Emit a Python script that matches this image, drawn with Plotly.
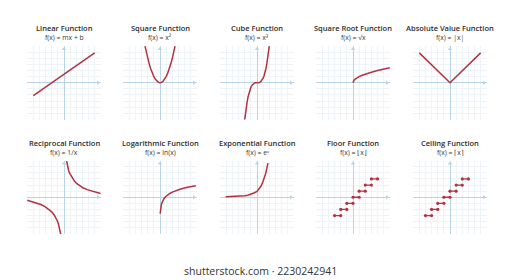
import plotly.graph_objects as go

W, H = 520, 280

# ---------------- data ----------------
TITLES = ["Linear Function", "Square Function", "Cube Function", "Square Root Function",
          "Absolute Value Function", "Reciprocal Function", "Logarithmic Function",
          "Exponential Function", "Floor Function", "Ceiling Function"]
FORMULAS = ["f(x) = mx + b", "f(x) = x²", "f(x) = x³", "f(x) = √x", "f(x) = |x|",
            "f(x) = 1/x", "f(x) = ln(x)", "f(x) = eˣ", "f(x) = ⌊x⌋", "f(x) = ⌈x⌉"]

LIN_X = [-5, 5]
LIN_Y = [-2.1, 4.9]
SQ_X = [-2.45, -2.2, -2, -1.75, -1.5, -1.25, -1, -0.75, -0.5, -0.25, 0,
        0.25, 0.5, 0.75, 1, 1.25, 1.5, 1.75, 2, 2.2, 2.45]
SQ_Y = [6, 4.84, 4, 3.06, 2.25, 1.56, 1, 0.56, 0.25, 0.06, 0,
        0.06, 0.25, 0.56, 1, 1.56, 2.25, 3.06, 4, 4.84, 6]
CUBE_X = [-2.05, -1.9, -1.75, -1.6, -1.45, -1.3, -1.15, -1.0, -0.8, -0.6, -0.4, -0.2, 0,
          0.2, 0.4, 0.6, 0.8, 1.0, 1.15, 1.3, 1.45, 1.6, 1.75, 1.9, 2.0]
CUBE_Y = [-6.4, -5.1, -4.0, -3.1, -2.3, -1.65, -1.15, -0.75, -0.4, -0.16, -0.05, -0.01, 0,
          0.01, 0.05, 0.16, 0.4, 0.75, 1.15, 1.65, 2.3, 3.1, 4.0, 5.1, 6.0]
SQRT_X = [0, 0.05, 0.15, 0.3, 0.6, 1, 1.5, 2, 3, 4, 5, 6]
SQRT_Y = [0, 0.22, 0.39, 0.55, 0.77, 1, 1.22, 1.41, 1.73, 2, 2.24, 2.45]
ABS_X = [-5, 0, 5]
ABS_Y = [4.9, 0, 4.9]
REC_UP_X = [0.43, 0.52, 0.62, 0.75, 0.9, 1.08, 1.3, 1.6, 2.0, 2.5, 3.1, 3.78, 4.5, 5.2, 5.95]
REC_UP_Y = [5.95, 5.4, 4.9, 4.4, 4.0, 3.65, 3.25, 2.8, 2.3, 1.9, 1.55, 1.25, 1.0, 0.8, 0.6]
REC_LO_X = [-6, -5.2, -4.5, -3.78, -3.1, -2.5, -2.0, -1.6, -1.3, -1.08, -0.9, -0.75, -0.62, -0.54]
REC_LO_Y = [-0.5, -0.75, -0.95, -1.2, -1.55, -1.95, -2.4, -2.9, -3.4, -3.9, -4.4, -4.95, -5.6, -6.05]
LOG_X = [0.03, 0.06, 0.12, 0.2, 0.3, 0.45, 0.65, 0.9, 1.2, 1.6, 2.1, 2.7, 3.4, 4.3, 5.0, 5.84]
LOG_Y = [-2.7, -2.2, -1.7, -1.3, -0.95, -0.6, -0.25, 0.08, 0.35, 0.62, 0.88, 1.12, 1.35, 1.6, 1.75, 1.9]
EXP_X = [-5.1, -4.5, -4, -3.5, -3, -2.5, -2, -1.5, -1.0, -0.5, 0, 0.3, 0.6, 0.9, 1.15, 1.4, 1.6, 1.78]
EXP_Y = [0.09, 0.1, 0.11, 0.13, 0.15, 0.18, 0.23, 0.32, 0.48, 0.7, 0.97, 1.3, 1.75, 2.35, 3.0, 3.85, 4.7, 5.6]
FLOOR_N = [-3, -2, -1, 0, 1, 2, 3]
CEIL_N = [-3, -2, -1, 0, 1, 2, 3]

# ---------------- layout helpers ----------------
PANEL_X = [(27, 101), (123, 197), (220, 294), (316, 390), (413, 487)]
PANEL_Y = [(46, 119.5), (160.5, 234)]
TITLE_Y = [(28.5, 38), (142.5, 152.5)]
RED = "#b3323f"
AXC = "#b9d4e6"
GRIDC = "#eef3f7"
RNG = 6.03
ARROW = 5.55

fig = go.Figure()
layout = {}
annotations = []

curves = [
    [(LIN_X, LIN_Y)],
    [(SQ_X, SQ_Y)],
    [(CUBE_X, CUBE_Y)],
    [(SQRT_X, SQRT_Y)],
    [(ABS_X, ABS_Y)],
    [(REC_UP_X, REC_UP_Y), (REC_LO_X, REC_LO_Y)],
    [(LOG_X, LOG_Y)],
    [(EXP_X, EXP_Y)],
    "floor",
    "ceil",
]

for i in range(10):
    r, c = divmod(i, 5)
    k = i + 1
    xa = "xaxis" if k == 1 else f"xaxis{k}"
    ya = "yaxis" if k == 1 else f"yaxis{k}"
    xr = "x" if k == 1 else f"x{k}"
    yr = "y" if k == 1 else f"y{k}"
    x0, x1 = PANEL_X[c]
    y0, y1 = PANEL_Y[r]
    common = dict(range=[-RNG, RNG], dtick=1, tick0=0, showgrid=True, gridcolor=GRIDC,
                  gridwidth=1, zeroline=True, zerolinecolor=AXC, zerolinewidth=1,
                  showticklabels=False, ticks="", showline=False, fixedrange=True)
    layout[xa] = dict(domain=[x0 / W, x1 / W], anchor=yr, **common)
    layout[ya] = dict(domain=[1 - y1 / H, 1 - y0 / H], anchor=xr, **common)

    # arrowheads
    fig.add_trace(go.Scatter(x=[ARROW, 0], y=[0, ARROW], mode="markers",
                             marker=dict(symbol=["triangle-right", "triangle-up"], size=4,
                                         color=AXC),
                             xaxis=xr, yaxis=yr, hoverinfo="skip", showlegend=False))

    spec = curves[i]
    if spec in ("floor", "ceil"):
        N = FLOOR_N if spec == "floor" else CEIL_N
        for n in N:
            xs = [n, n + 1] if spec == "floor" else [n - 1, n]
            fig.add_trace(go.Scatter(x=xs, y=[n, n], mode="lines+markers",
                                     line=dict(color=RED, width=1.3),
                                     marker=dict(symbol="circle", size=3.2, color=RED),
                                     xaxis=xr, yaxis=yr, hoverinfo="skip", showlegend=False))
    else:
        for xs, ys in spec:
            fig.add_trace(go.Scatter(x=xs, y=ys, mode="lines",
                                     line=dict(color=RED, width=1.5),
                                     xaxis=xr, yaxis=yr, hoverinfo="skip", showlegend=False))

    cx = (x0 + x1) / 2 / W
    ty, fy = TITLE_Y[r]
    annotations.append(dict(text=TITLES[i], x=cx, y=1 - ty / H, xref="paper", yref="paper",
                            showarrow=False, xanchor="center", yanchor="middle", borderpad=0,
                            font=dict(family="Open Sans", size=7.5, color="#2b2b2b", weight=600)))
    annotations.append(dict(text=FORMULAS[i], x=cx, y=1 - fy / H, xref="paper", yref="paper",
                            showarrow=False, xanchor="center", yanchor="middle", borderpad=0,
                            font=dict(family="Open Sans", size=6.8, color="#3a3a3a")))

annotations.append(dict(text="shutterstock.com · 2230242941", x=260 / W, y=1 - 271 / H,
                        xref="paper", yref="paper", showarrow=False, xanchor="center",
                        yanchor="middle",
                        font=dict(family="Open Sans", size=10.5, color="#333333")))

fig.update_layout(width=W, height=H, margin=dict(l=0, r=0, t=0, b=0),
                  paper_bgcolor="white", plot_bgcolor="white", showlegend=False,
                  annotations=annotations, **layout)

fig.write_html("out.html", config={"displayModeBar": False})
